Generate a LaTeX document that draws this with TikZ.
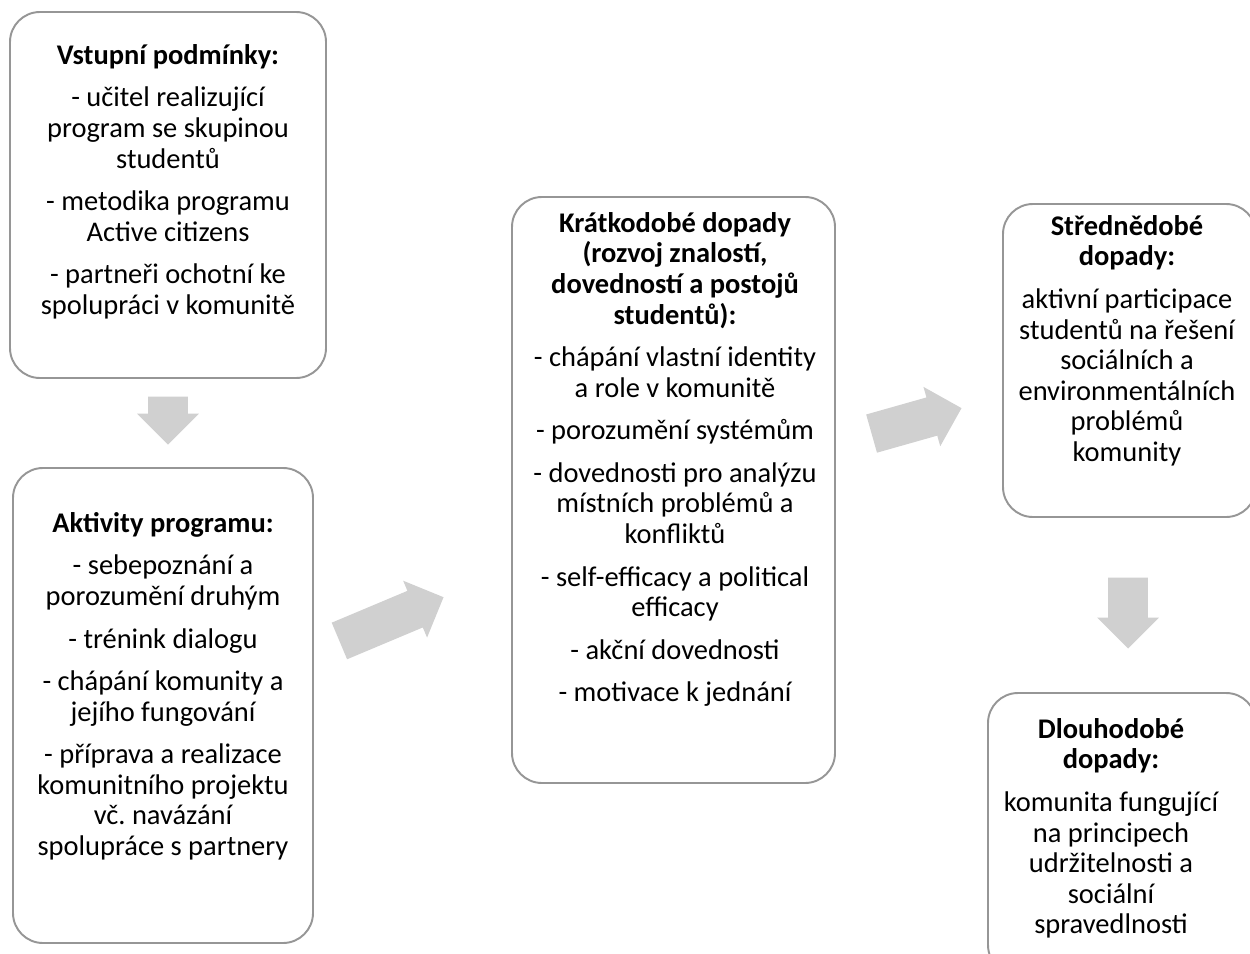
\documentclass[tikz,border=0pt]{standalone}
\usepackage{fontspec}
\setmainfont{Carlito}
\usetikzlibrary{fit,shapes.arrows}

\definecolor{boxline}{RGB}{150,150,150}
\definecolor{arrowfill}{RGB}{208,208,208}

\tikzset{
  box/.style={draw=boxline, line width=1.1pt, rounded corners=0.6cm, inner sep=0pt},
  txt/.style={align=center, inner sep=0pt, anchor=north, font=\fontsize{16.2}{17.4}\selectfont\frenchspacing},
  bigarrow/.style={single arrow, fill=arrowfill, draw=none, inner xsep=0pt, inner ysep=0.39cm,
    single arrow head extend=0.22cm, anchor=tip},
}
\newcommand{\hd}[1]{\textbf{#1}}
\newcommand{\gap}{\\[0.24cm]}

\begin{document}
\begin{tikzpicture}[x=0.02cm, y=-0.02cm]
    \useasboundingbox (0,0) rectangle (1250,953);
    \clip (0,0) rectangle (1250,953);

    % boxes
    \node[box, fit={(10,12) (326,378)}] (vstup) {};
    \node[box, fit={(13,468) (313,943)}] (aktiv) {};
    \node[box, fit={(512,197) (835,783)}] (kratko) {};
    \node[box, fit={(1003,204) (1256,517)}] (stredne) {};
    \node[box, fit={(988,693) (1256,975)}] (dlouho) {};

    % texts
    \node[txt] (vstupT) at (168,44) {\hd{Vstupní podmínky:}\gap
        - učitel realizující\\program se skupinou\\studentů\gap
        - metodika programu\\Active citizens\gap
        - partneři ochotní ke\\spolupráci v komunitě};
    \node[txt] (aktivT) at (163,512) {\hd{Aktivity programu:}\gap
        - sebepoznání a\\porozumění druhým\gap
        - trénink dialogu\gap
        - chápání komunity a\\jejího fungování\gap
        - příprava a realizace\\komunitního projektu\\vč. navázání\\spolupráce s partnery};
    \node[txt] (kratkoT) at (675,212) {\hd{Krátkodobé dopady}\\\hd{(rozvoj znalostí,}\\\hd{dovedností a postojů}\\\hd{studentů):}\gap
        - chápání vlastní identity\\a role v komunitě\gap
        - porozumění systémům\gap
        - dovednosti pro analýzu\\místních problémů a\\konfliktů\gap
        - self-efficacy a political\\efficacy\gap
        - akční dovednosti\gap
        - motivace k jednání};
    \node[txt] (strednT) at (1127,215) {\hd{Střednědobé}\\\hd{dopady:}\gap
        aktivní participace\\studentů na řešení\\sociálních a\\environmentálních\\problémů\\komunity};
    \node[txt] (dlouhoT) at (1111,718) {\hd{Dlouhodobé}\\\hd{dopady:}\gap
        komunita fungující\\na principech\\udržitelnosti a\\sociální\\spravedlnosti};

    % arrows
    \node[bigarrow, minimum height=0.96cm, rotate=-90] (ar1) at (168,445) {};
    \node[bigarrow, minimum height=2.26cm, rotate=22.8] (ar2) at (444,597) {};
    \node[bigarrow, minimum height=1.87cm, rotate=15.8] (ar3) at (962,408) {};
    \node[bigarrow, minimum height=1.42cm, rotate=-90] (ar4) at (1128,649) {};
\end{tikzpicture}
\end{document}
